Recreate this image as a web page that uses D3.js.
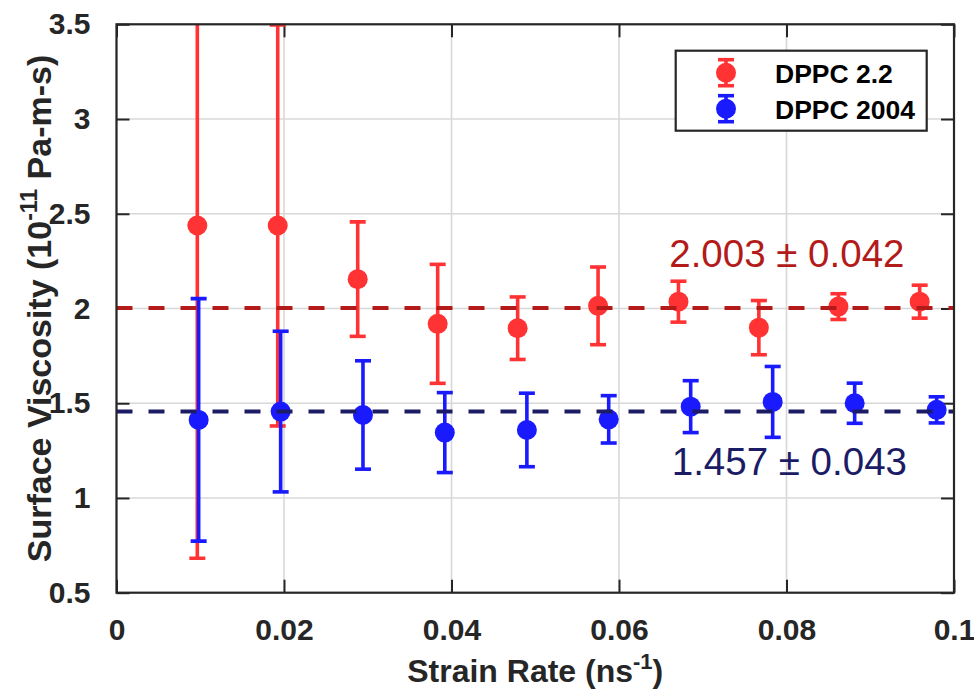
<!DOCTYPE html>
<html>
<head>
<meta charset="utf-8">
<script src="https://cdn.jsdelivr.net/npm/d3@7"></script>
<style>
  html, body { margin: 0; padding: 0; background: #fff; }
  svg { display: block; font-family: "Liberation Sans", Arial, Helvetica, sans-serif; }
</style>
</head>
<body>
<svg id="chart" width="974" height="694"></svg>
<script>
// ---- data ----
const seriesNames = ["DPPC 2.2", "DPPC 2004"];
const xRed   = [0.00965, 0.01925, 0.0288, 0.03835, 0.0479, 0.0575, 0.0671, 0.0767, 0.0862, 0.0959];
const yRed   = [2.438, 2.438, 2.155, 1.919, 1.896, 2.014, 2.036, 1.899, 2.010, 2.036];
const errRed = [1.756, 1.058, 0.302, 0.314, 0.165, 0.205, 0.108, 0.143, 0.068, 0.087];
const xBlue   = [0.00981, 0.0196, 0.02943, 0.0392, 0.049, 0.05877, 0.06856, 0.07835, 0.08814, 0.09793];
const yBlue   = [1.412, 1.456, 1.438, 1.345, 1.359, 1.415, 1.482, 1.507, 1.500, 1.465];
const errBlue = [0.640, 0.424, 0.286, 0.211, 0.194, 0.125, 0.137, 0.187, 0.106, 0.069];
const meanValues = [2.003, 1.457];
const meanLabels = ["2.003 \u00B1 0.042", "1.457 \u00B1 0.043"];
const labelPos = [[0.066, 2.22], [0.0663, 1.121]];
const xTicks = [0, 0.02, 0.04, 0.06, 0.08, 0.1];
const xTickLabels = ["0", "0.02", "0.04", "0.06", "0.08", "0.1"];
const yTicks = [0.5, 1, 1.5, 2, 2.5, 3, 3.5];
const yTickLabels = ["0.5", "1", "1.5", "2", "2.5", "3", "3.5"];

// ---- style ----
const markerColors = ["#ff3333", "#1a1aff"];
const meanColors = ["#b31b1b", "#1c1c66"];
const L = 116.5, R = 954, T = 24.3, B = 592.7;

const svg = d3.select("#chart");
const x = d3.scaleLinear().domain([0, 0.1]).range([L, R]);
const y = d3.scaleLinear().domain([0.5, 3.5]).range([B, T]);

svg.append("defs").append("clipPath").attr("id", "clip")
  .append("rect").attr("x", L).attr("y", T).attr("width", R - L).attr("height", B - T);

// grid
const grid = svg.append("g");
grid.selectAll("line.gx").data(xTicks).join("line")
  .attr("x1", d => x(d)).attr("x2", d => x(d)).attr("y1", T).attr("y2", B)
  .attr("stroke", "#d8d8d8").attr("stroke-width", 1.6);
grid.selectAll("line.gy").data(yTicks).join("line")
  .attr("y1", d => y(d)).attr("y2", d => y(d)).attr("x1", L).attr("x2", R)
  .attr("stroke", "#d8d8d8").attr("stroke-width", 1.6);

// axes (ticks inward on all four sides)
const tickLen = 13;
const axisStyle = g => {
  g.select(".domain").remove();
  g.selectAll(".tick line").attr("stroke", "#262626").attr("stroke-width", 2);
  g.selectAll(".tick text").attr("font-weight", "bold").attr("font-size", 30).attr("fill", "#262626");
};
svg.append("g").attr("transform", `translate(0,${B})`)
  .call(d3.axisBottom(x).tickValues(xTicks).tickFormat((d, i) => xTickLabels[i]).tickSizeInner(-tickLen).tickPadding(tickLen + 13))
  .call(axisStyle);
svg.append("g").attr("transform", `translate(0,${T})`)
  .call(d3.axisTop(x).tickValues(xTicks).tickFormat("").tickSizeInner(-tickLen))
  .call(axisStyle);
svg.append("g").attr("transform", `translate(${L},0)`)
  .call(d3.axisLeft(y).tickValues(yTicks).tickFormat((d, i) => yTickLabels[i]).tickSizeInner(-tickLen).tickPadding(tickLen + 13))
  .call(axisStyle);
svg.append("g").attr("transform", `translate(${R},0)`)
  .call(d3.axisRight(y).tickValues(yTicks).tickFormat("").tickSizeInner(-tickLen))
  .call(axisStyle);

// error bars + markers
const plot = svg.append("g").attr("clip-path", "url(#clip)");
const capW = 16;
function drawSeries(xs, ys, es, color) {
  const pts = xs.map((v, i) => ({x: v, y: ys[i], e: es[i]}));
  const g = plot.append("g");
  g.selectAll("line.stem").data(pts).join("line")
    .attr("x1", d => x(d.x)).attr("x2", d => x(d.x))
    .attr("y1", d => y(d.y - d.e)).attr("y2", d => y(d.y + d.e))
    .attr("stroke", color).attr("stroke-width", 3.6);
  g.selectAll("line.capt").data(pts).join("line")
    .attr("x1", d => x(d.x) - capW / 2).attr("x2", d => x(d.x) + capW / 2)
    .attr("y1", d => y(d.y + d.e)).attr("y2", d => y(d.y + d.e))
    .attr("stroke", color).attr("stroke-width", 3.6);
  g.selectAll("line.capb").data(pts).join("line")
    .attr("x1", d => x(d.x) - capW / 2).attr("x2", d => x(d.x) + capW / 2)
    .attr("y1", d => y(d.y - d.e)).attr("y2", d => y(d.y - d.e))
    .attr("stroke", color).attr("stroke-width", 3.6);
  g.selectAll("circle").data(pts).join("circle")
    .attr("cx", d => x(d.x)).attr("cy", d => y(d.y)).attr("r", 10)
    .attr("fill", color);
}
drawSeries(xRed, yRed, errRed, markerColors[0]);
drawSeries(xBlue, yBlue, errBlue, markerColors[1]);

// mean lines
plot.selectAll("line.mean").data(meanValues).join("line")
  .attr("x1", L).attr("x2", R).attr("y1", d => y(d)).attr("y2", d => y(d))
  .attr("stroke", (d, i) => meanColors[i]).attr("stroke-width", 4)
  .attr("stroke-dasharray", "16,16");

// annotations
svg.selectAll("text.ann").data(meanLabels).join("text")
  .attr("x", (d, i) => x(labelPos[i][0])).attr("y", (d, i) => y(labelPos[i][1]))
  .attr("font-size", 38.5).attr("fill", (d, i) => meanColors[i])
  .text(d => d);

// box
svg.append("rect").attr("x", L).attr("y", T).attr("width", R - L).attr("height", B - T)
  .attr("fill", "none").attr("stroke", "#262626").attr("stroke-width", 2.2);

// axis titles
const xt = svg.append("text").attr("x", (L + R) / 2).attr("y", 682).attr("text-anchor", "middle")
  .attr("font-weight", "bold").attr("font-size", 32).attr("fill", "#262626");
xt.append("tspan").text("Strain Rate (ns");
xt.append("tspan").attr("font-size", 22).attr("dy", -13).text("-1");
xt.append("tspan").attr("dy", 13).text(")");

const yt = svg.append("text").attr("transform", `translate(51,${(T + B) / 2}) rotate(-90)`)
  .attr("text-anchor", "middle").attr("font-weight", "bold").attr("font-size", 34).attr("fill", "#262626");
yt.append("tspan").text("Surface Viscosity (10");
yt.append("tspan").attr("font-size", 23).attr("dy", -14).text("-11");
yt.append("tspan").attr("dy", 14).text(" Pa-m-s)");

// legend
const lg = svg.append("g");
lg.append("rect").attr("x", 675.7).attr("y", 50.7).attr("width", 251).attr("height", 80)
  .attr("fill", "#fff").attr("stroke", "#262626").attr("stroke-width", 2.2);
const legRows = [72.7, 108.7];
seriesNames.forEach((name, i) => {
  const cy = legRows[i], cx = 726, c = markerColors[i];
  lg.append("line").attr("x1", cx).attr("x2", cx).attr("y1", cy - 13).attr("y2", cy + 13).attr("stroke", c).attr("stroke-width", 3.6);
  lg.append("line").attr("x1", cx - 8).attr("x2", cx + 8).attr("y1", cy - 13).attr("y2", cy - 13).attr("stroke", c).attr("stroke-width", 3.6);
  lg.append("line").attr("x1", cx - 8).attr("x2", cx + 8).attr("y1", cy + 13).attr("y2", cy + 13).attr("stroke", c).attr("stroke-width", 3.6);
  lg.append("circle").attr("cx", cx).attr("cy", cy).attr("r", 10).attr("fill", c);
  lg.append("text").attr("x", 775).attr("y", cy + 10.5).attr("font-weight", "bold").attr("font-size", 26.5)
    .attr("fill", "#000").text(name);
});
</script>
</body>
</html>
